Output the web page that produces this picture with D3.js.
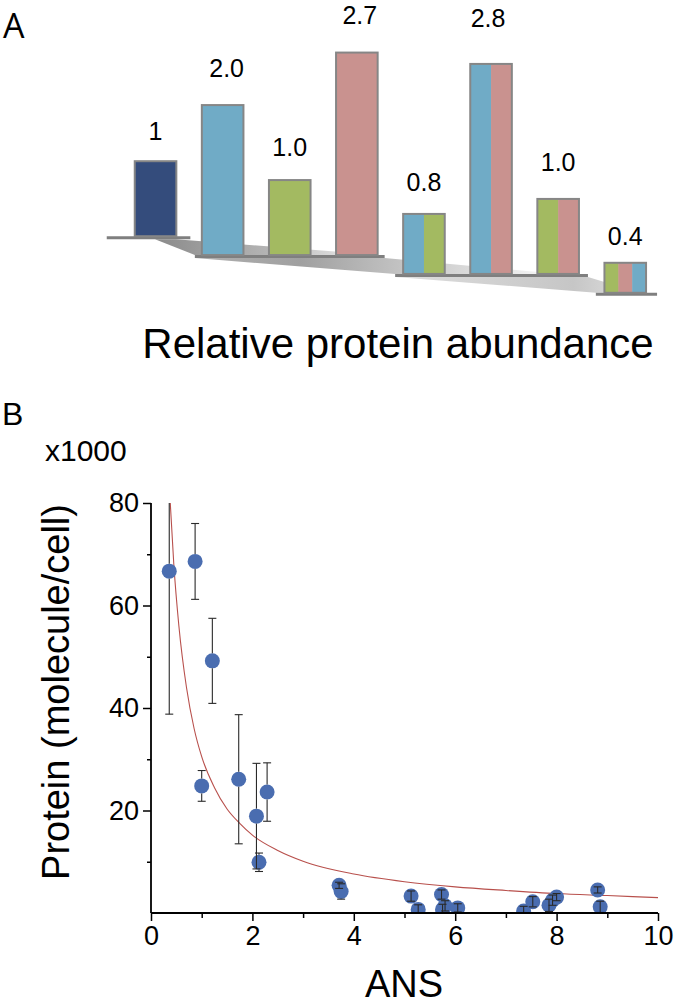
<!DOCTYPE html>
<html>
<head>
<meta charset="utf-8">
<script src="https://cdnjs.cloudflare.com/ajax/libs/d3/7.8.5/d3.min.js"></script>
<style>
  html, body { margin: 0; padding: 0; background: #fff; }
  svg { display: block; }
</style>
</head>
<body>
<script>
// ---------------- Panel A data ----------------
const barLabels = ["1", "2.0", "1.0", "2.7", "0.8", "2.8", "1.0", "0.4"];
const barValues = [1, 2.0, 1.0, 2.7, 0.8, 2.8, 1.0, 0.4];
const barStripes = [["navy"], ["blue"], ["green"], ["pink"], ["blue", "green"], ["blue", "pink"], ["green", "pink"], ["green", "pink", "blue"]];
const barGroups = [0, 1, 1, 1, 2, 2, 2, 3];

// ---------------- Panel B data ----------------
const ansValues     = [0.36, 0.87, 1.21, 1.0, 1.73, 2.08, 2.13, 2.29, 3.71, 3.75, 5.13, 5.27, 5.73, 5.75, 5.8, 6.05, 7.35, 7.53, 7.85, 7.92, 8.0, 8.81, 8.86];
const proteinValues = [66.7, 68.6, 49.2, 24.8, 26.1, 18.9, 9.9, 23.6, 5.4, 4.2, 3.3, 0.7, 3.6, 0.7, 1.4, 1.0, 0.4, 2.2, 1.5, 2.5, 3.1, 4.5, 1.2];
const proteinErrors = [27.9, 7.4, 8.3, 3.0, 12.6, 10.3, 1.8, 5.7, 0.6, 1.5, 1.0, 0.9, 0.9, 1.0, 1.0, 0.8, 0.9, 1.0, 1.2, 1.0, 0.7, 0.6, 1.1];
// fitted curve
const fitX = [0.38, 0.45, 0.55, 0.7, 0.85, 1.0, 1.25, 1.5, 1.75, 2.0, 2.5, 3, 4, 5, 6, 7, 8, 9, 10];
const fitY = [80, 68, 56, 44, 36, 30.5, 24.5, 20.3, 17.5, 15.2, 12.2, 10.1, 7.6, 6.1, 5.1, 4.4, 3.8, 3.4, 3.0];
const xTicks = [0, 2, 4, 6, 8, 10];
const yTicks = [20, 40, 60, 80];

// ---------------- styles / layout ----------------
const W = 674, H = 1006;
const colorMap = { navy: "#344c7c", blue: "#70abc6", green: "#a3ba61", pink: "#c9928f" };
const labelGap = [21, 28, 24, 29, 23, 37, 28, 18];
const labelDx = [0, 4, 0, 3, 0, -3, 0, 0];
const basePadL = [28, 7, 8, 8.6];
const basePadR = [14, 7, 9, 11];

const svg = d3.select("body").append("svg").attr("width", W).attr("height", H)
  .style("font-family", "'Liberation Sans', Arial, sans-serif");
svg.append("rect").attr("width", W).attr("height", H).attr("fill", "#fff");
const defs = svg.append("defs");

// ---------------- Panel A ----------------
const xA = d3.scaleBand().domain(d3.range(barValues.length)).range([122, 658.8]).paddingInner(0.38).paddingOuter(0.19);
const hA = d3.scaleLinear().domain([0, 1]).range([0, 75]);
const baseA = d3.scaleLinear().domain([0, 3]).range([237.7, 294.3]);

svg.append("text").attr("x", 3).attr("y", 38).attr("font-size", 34)
  .style("font-family", "'Open Sans', sans-serif").text("A");

// shadows
function grad(id, x1, x2, stops) {
  const g = defs.append("linearGradient").attr("id", id).attr("gradientUnits", "userSpaceOnUse")
    .attr("x1", x1).attr("x2", x2).attr("y1", 0).attr("y2", 0);
  stops.forEach(s => g.append("stop").attr("offset", s[0]).attr("stop-color", s[1]));
}
const groupIdx = d3.groups(d3.range(barValues.length), i => barGroups[i]).map(d => d[1]);
const groupExt = groupIdx.map((idx, g) => {
  const l = xA(idx[0]) - basePadL[g];
  const r = xA(idx[idx.length - 1]) + xA.bandwidth() + basePadR[g];
  return [l, r, baseA(g)];
});
grad("sh1", 155, 385, [[0, "#8a8a8a"], [0.5, "#b5b5b5"], [1, "#f7f7f7"]]);
grad("sh2", 190, 560, [[0, "#b0b0b0"], [0.3, "#a0a0a0"], [1, "#fafafa"]]);
grad("sh3", 394, 650, [[0, "#dedede"], [0.7, "#c6c6c6"], [1, "#e6e6e6"]]);
const g0 = groupExt[0], g1 = groupExt[1], g2 = groupExt[2], g3 = groupExt[3];
const shadows = [
  { id: "sh1", pts: [[155, g0[2] + 1.5], [176, g0[2] + 1.5], [380, g1[2] - 1.5], [g1[0], g1[2] - 1.5]] },
  { id: "sh2", pts: [[g1[0], g1[2] + 1.5], [g1[1], g1[2] + 1.5], [560, g2[2] - 1.5], [g2[0], g2[2] - 1.5]] },
  { id: "sh3", pts: [[g2[0], g2[2] + 1.5], [g2[1], g2[2] + 1.5], [640, g3[2] - 1.5], [g3[0], g3[2] - 1.5]] }
];
svg.append("g").selectAll("path").data(shadows).join("path")
  .attr("d", d => d3.line()(d.pts) + "Z")
  .attr("fill", d => `url(#${d.id})`);

// baselines
svg.append("g").selectAll("line").data(groupExt).join("line")
  .attr("x1", d => d[0]).attr("x2", d => d[1]).attr("y1", d => d[2]).attr("y2", d => d[2])
  .attr("stroke", "#7f7f7f").attr("stroke-width", 3);

// bars
const barG = svg.append("g");
barValues.forEach((v, i) => {
  const x0 = xA(i), bw = xA.bandwidth();
  const bottom = baseA(barGroups[i]) - 1.5;
  const top = bottom - hA(v);
  const stripes = barStripes[i];
  const sw = bw / stripes.length;
  stripes.forEach((c, k) => {
    barG.append("rect").attr("x", x0 + k * sw).attr("y", top).attr("width", sw + (k < stripes.length - 1 ? 0.5 : 0))
      .attr("height", bottom - top).attr("fill", colorMap[c]);
  });
  barG.append("rect").attr("x", x0).attr("y", top).attr("width", bw).attr("height", bottom - top)
    .attr("fill", "none").attr("stroke", "#868686").attr("stroke-width", 2);
  barG.append("text").attr("x", x0 + bw / 2 + labelDx[i]).attr("y", top - labelGap[i])
    .attr("text-anchor", "middle").attr("font-size", 25)
    .style("font-family", "'Liberation Sans', Arial, sans-serif").text(barLabels[i]);
});

svg.append("text").attr("x", 398).attr("y", 358).attr("text-anchor", "middle")
  .attr("font-size", 42).text("Relative protein abundance");

// ---------------- Panel B ----------------
const xB = d3.scaleLinear().domain([0, 10]).range([151, 658]);
const yB = d3.scaleLinear().domain([0, 80]).range([913, 503]);

svg.append("text").attr("x", 2).attr("y", 425).attr("font-size", 32).text("B");
svg.append("text").attr("x", 45).attr("y", 461).attr("font-size", 30).text("x1000");

defs.append("clipPath").attr("id", "plotClip").append("rect")
  .attr("x", xB(0)).attr("y", yB(80)).attr("width", xB(10) - xB(0)).attr("height", yB(0) - yB(80));

const plot = svg.append("g").attr("clip-path", "url(#plotClip)");

// fitted curve
const fitData = fitX.map((x, i) => [x, fitY[i]]);
plot.append("path").datum(fitData)
  .attr("d", d3.line().x(d => xB(d[0])).y(d => yB(d[1])).curve(d3.curveMonotoneX))
  .attr("fill", "none").attr("stroke", "#b8504c").attr("stroke-width", 1.1);

const pts = ansValues.map((x, i) => ({ x, y: proteinValues[i], e: proteinErrors[i] }));
const R = 7.5;
plot.append("g").selectAll("circle").data(pts).join("circle")
  .attr("cx", d => xB(d.x)).attr("cy", d => yB(d.y)).attr("r", R).attr("fill", "#4a6db0");

// error bars
const eb = plot.append("g").attr("stroke", "#2a2a2a").attr("stroke-width", 1.1).attr("fill", "none");
pts.forEach(d => {
  const cx = xB(d.x), cy = yB(d.y), yt = yB(d.y + d.e), yb = yB(d.y - d.e);
  if (cy - yt > R) {
    eb.append("line").attr("x1", cx).attr("x2", cx).attr("y1", yt).attr("y2", cy - R);
    eb.append("line").attr("x1", cx).attr("x2", cx).attr("y1", cy + R).attr("y2", yb);
  } else {
    eb.append("line").attr("x1", cx).attr("x2", cx).attr("y1", yt).attr("y2", yb);
  }
  eb.append("line").attr("x1", cx - 4).attr("x2", cx + 4).attr("y1", yt).attr("y2", yt);
  eb.append("line").attr("x1", cx - 4).attr("x2", cx + 4).attr("y1", yb).attr("y2", yb);
});

// axes
const xAxis = svg.append("g").attr("transform", `translate(0,${yB(0)})`)
  .call(d3.axisBottom(xB).tickValues(d3.range(0, 11, 1)).tickSize(8).tickFormat(d => xTicks.includes(d) ? d : ""));
xAxis.select(".domain").attr("d", `M${xB(0)},0H${xB(10)}`).attr("stroke", "#000").attr("stroke-width", 1.8);
xAxis.selectAll(".tick line").attr("stroke", "#000").attr("stroke-width", 1.5)
  .attr("y2", d => xTicks.includes(d) ? 8 : 5);
xAxis.selectAll(".tick text").attr("font-size", 27).attr("y", 13).attr("dy", "0.71em")
  .style("font-family", "'Liberation Sans', Arial, sans-serif").attr("fill", "#000");

const yAxis = svg.append("g").attr("transform", `translate(${xB(0)},0)`)
  .call(d3.axisLeft(yB).tickValues(d3.range(10, 81, 10)).tickSize(8).tickFormat(d => yTicks.includes(d) ? d : ""));
yAxis.select(".domain").attr("d", `M0,${yB(80)}V${yB(0)}`).attr("stroke", "#000").attr("stroke-width", 1.8);
yAxis.selectAll(".tick line").attr("stroke", "#000").attr("stroke-width", 1.5)
  .attr("x2", d => yTicks.includes(d) ? -8 : -4);
yAxis.selectAll(".tick text").attr("font-size", 27).attr("x", -12)
  .style("font-family", "'Liberation Sans', Arial, sans-serif").attr("fill", "#000");

svg.append("text").attr("x", 404).attr("y", 997).attr("text-anchor", "middle")
  .attr("font-size", 38).text("ANS");
svg.append("text").attr("transform", "translate(69,692) rotate(-90)").attr("text-anchor", "middle")
  .attr("font-size", 38).text("Protein (molecule/cell)");
</script>
</body>
</html>
